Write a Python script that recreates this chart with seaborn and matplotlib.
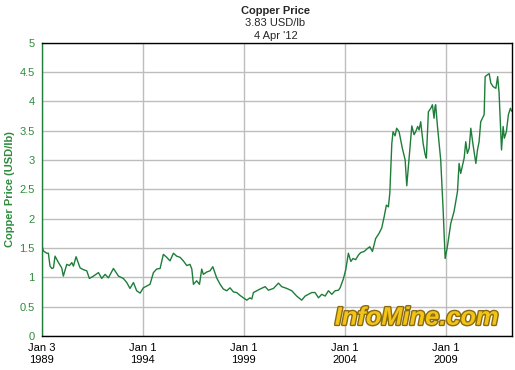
import matplotlib
matplotlib.use("Agg")
import matplotlib.pyplot as plt
import matplotlib.patheffects as pe
import pandas as pd
import seaborn as sns

# decimal years and copper price (USD/lb)
years = [
    1989.00, 1989.08, 1989.25, 1989.33, 1989.41, 1989.50, 1989.58, 1989.66, 1989.83, 1989.99,
    1990.07, 1990.24, 1990.37, 1990.49, 1990.57, 1990.70, 1990.90, 1991.06, 1991.23, 1991.36,
    1991.56, 1991.81, 1991.97, 1992.14, 1992.30, 1992.55, 1992.80, 1993.04, 1993.21, 1993.37,
    1993.54, 1993.70, 1993.87, 1994.03, 1994.20, 1994.36, 1994.53, 1994.69, 1994.86, 1995.02,
    1995.19, 1995.35, 1995.52, 1995.68, 1995.85, 1996.01, 1996.18, 1996.34, 1996.43, 1996.51,
    1996.67, 1996.81, 1996.92, 1997.00, 1997.17, 1997.33, 1997.47, 1997.66, 1997.83, 1997.99,
    1998.16, 1998.32, 1998.49, 1998.65, 1998.82, 1998.98, 1999.15, 1999.31, 1999.40, 1999.48,
    1999.64, 1999.81, 2000.06, 2000.22, 2000.47, 2000.72, 2000.88, 2001.13, 2001.38, 2001.62,
    2001.87, 2002.04, 2002.20, 2002.37, 2002.53, 2002.70, 2002.86, 2003.03, 2003.19, 2003.36,
    2003.52, 2003.69, 2003.77, 2003.93, 2004.05, 2004.18, 2004.30, 2004.41, 2004.54, 2004.68,
    2004.79, 2004.96, 2005.12, 2005.24, 2005.37, 2005.53, 2005.70, 2005.83, 2005.95, 2006.06,
    2006.16, 2006.23, 2006.33, 2006.39, 2006.49, 2006.57, 2006.69, 2006.85, 2006.99, 2007.07,
    2007.18, 2007.32, 2007.43, 2007.51, 2007.61, 2007.68, 2007.76, 2007.88, 2007.98, 2008.04,
    2008.14, 2008.26, 2008.34, 2008.42, 2008.47, 2008.50, 2008.59, 2008.75, 2008.87, 2008.97,
    2009.08, 2009.25, 2009.41, 2009.58, 2009.66, 2009.74, 2009.91, 2009.99, 2010.07, 2010.16,
    2010.24, 2010.35, 2010.49, 2010.57, 2010.65, 2010.73, 2010.90, 2010.95, 2011.06, 2011.15,
    2011.23, 2011.34, 2011.48, 2011.57, 2011.64, 2011.71, 2011.76, 2011.84, 2011.90, 2012.00,
    2012.10, 2012.20, 2012.26,
]
prices = [
    1.56, 1.45, 1.41, 1.41, 1.19, 1.15, 1.16, 1.36, 1.25, 1.16,
    1.02, 1.22, 1.20, 1.25, 1.19, 1.35, 1.16, 1.13, 1.11, 0.98,
    1.02, 1.08, 0.98, 1.05, 0.99, 1.15, 1.02, 0.98, 0.91, 0.81,
    0.91, 0.77, 0.73, 0.82, 0.85, 0.88, 1.08, 1.14, 1.15, 1.39,
    1.34, 1.28, 1.41, 1.36, 1.34, 1.28, 1.20, 1.22, 1.14, 0.88,
    0.94, 0.88, 1.14, 1.05, 1.09, 1.11, 1.18, 0.99, 0.88, 0.80,
    0.77, 0.82, 0.75, 0.74, 0.69, 0.65, 0.61, 0.65, 0.63, 0.74,
    0.77, 0.80, 0.84, 0.78, 0.81, 0.90, 0.84, 0.81, 0.77, 0.68,
    0.61, 0.68, 0.71, 0.74, 0.74, 0.65, 0.71, 0.68, 0.77, 0.71,
    0.77, 0.78, 0.82, 0.97, 1.13, 1.41, 1.27, 1.32, 1.30, 1.38,
    1.42, 1.44, 1.49, 1.52, 1.44, 1.66, 1.75, 1.84, 2.03, 2.23,
    2.20, 2.43, 3.28, 3.48, 3.41, 3.54, 3.48, 3.20, 3.00, 2.56,
    3.00, 3.58, 3.43, 3.48, 3.57, 3.51, 3.65, 3.28, 3.09, 3.03,
    3.82, 3.88, 3.94, 3.71, 3.91, 3.94, 3.57, 3.00, 2.15, 1.32,
    1.52, 1.92, 2.12, 2.46, 2.94, 2.77, 3.03, 3.31, 3.11, 3.20,
    3.54, 3.26, 2.94, 3.17, 3.31, 3.65, 3.77, 4.42, 4.45, 4.47,
    4.31, 4.25, 4.22, 4.42, 4.14, 3.57, 3.17, 3.57, 3.37, 3.48,
    3.77, 3.88, 3.83,
]
tick_years = [1989.005, 1994.0, 1999.0, 2004.0, 2009.0]
tick_labels = ["Jan 3\n1989", "Jan 1\n1994", "Jan 1\n1999", "Jan 1\n2004", "Jan 1\n2009"]
y_ticks = [0, 0.5, 1, 1.5, 2, 2.5, 3, 3.5, 4, 4.5, 5]
y_labels = ["0", "0.5", "1", "1.5", "2", "2.5", "3", "3.5", "4", "4.5", "5"]

GREEN = "#1e7d3a"
LABEL_GREEN = "#2e8b3e"

sns.set_style("white")
plt.rcParams["font.family"] = ["Liberation Sans", "DejaVu Sans"]

df = pd.DataFrame({"year": years, "price": prices})

fig = plt.figure(figsize=(5.15, 3.7), dpi=100)
ax = fig.add_axes([0.081, 0.092, 0.914, 0.793])
sns.lineplot(data=df, x="year", y="price", ax=ax, color=GREEN, linewidth=1.0)

ax.set_xlim(1989.0, 2012.3)
ax.set_ylim(0, 5)
ax.set_xticks(tick_years)
ax.set_xticklabels(tick_labels, fontsize=8, color="black", linespacing=1.3)
ax.set_yticks(y_ticks)
ax.set_yticklabels(y_labels, fontsize=8, color=LABEL_GREEN)
ax.tick_params(axis="both", direction="out", length=3, width=0.8, pad=2)
ax.tick_params(axis="y", colors=LABEL_GREEN)
ax.tick_params(axis="x", colors="black")
ax.grid(True, color="#bdbdbd", linewidth=1.0)
ax.set_axisbelow(True)

for side in ["top", "right", "bottom"]:
    ax.spines[side].set_color("black")
    ax.spines[side].set_linewidth(1.0)
ax.spines["left"].set_color(GREEN)
ax.spines["left"].set_linewidth(1.0)

ax.set_xlabel("")
ax.set_ylabel("Copper Price (USD/lb)", fontsize=8, fontweight="bold", color=LABEL_GREEN, labelpad=3)

fig.text(0.535, 0.985, "Copper Price", ha="center", va="top", fontsize=8, fontweight="bold")
fig.text(0.535, 0.950, "3.83 USD/lb", ha="center", va="top", fontsize=8)
fig.text(0.535, 0.917, "4 Apr '12", ha="center", va="top", fontsize=8)

ax.text(0.97, 0.062, "InfoMine.com", transform=ax.transAxes, ha="right", va="center",
        fontsize=18.3, fontweight="bold", fontstyle="italic", color="#f2c418",
        path_effects=[pe.withStroke(linewidth=2.0, foreground="#8a6a10")])

fig.savefig("out.png", dpi=100)
